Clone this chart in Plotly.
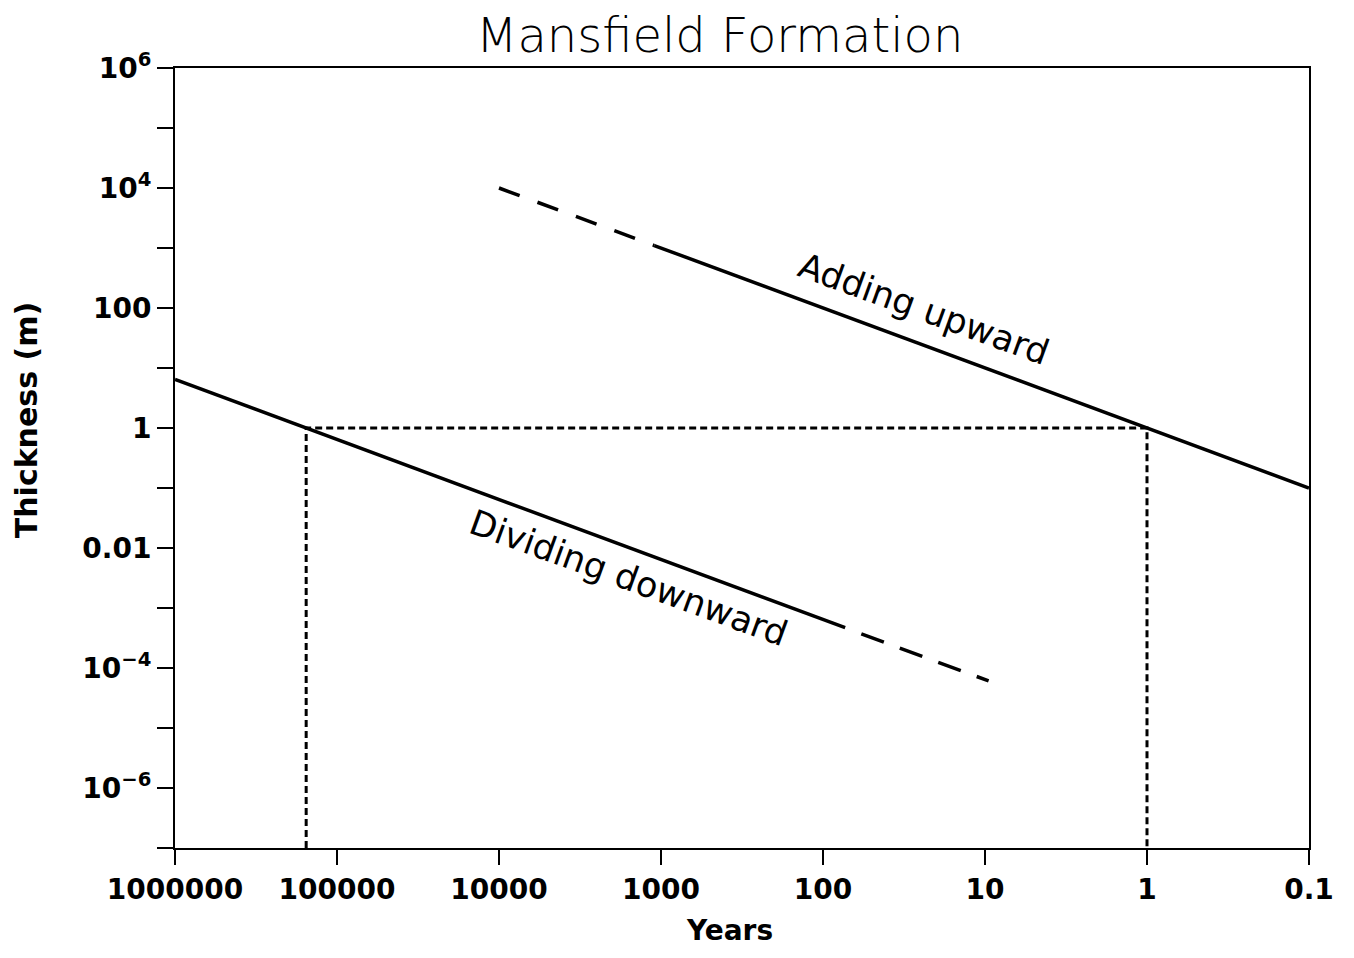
import plotly.graph_objects as go

# values
up_dash_years = [10000, 1100]
up_dash_m = [10000, 1100]
up_solid_years = [1100, 0.1]
up_solid_m = [1100, 0.1]

down_solid_years = [1000000, 73]
down_solid_m = [6.45, 0.00047]
down_dash_years = [58, 9.5]
down_dash_m = [0.00037, 0.000061]

box_years = [155000, 155000, 1, 1]
box_m = [1e-7, 1, 1, 1e-7]

x_tickvals = [1e6, 1e5, 1e4, 1e3, 1e2, 10, 1, 0.1]
x_ticktext = ["1000000", "100000", "10000", "1000", "100", "10", "1", "0.1"]
y_tickvals = [1e-6, 1e-4, 1e-2, 1, 100, 1e4, 1e6]
y_ticktext = ["10<sup>−6</sup>", "10<sup>−4</sup>", "0.01", "1", "100",
              "10<sup>4</sup>", "10<sup>6</sup>"]
y_minorvals = [1e-7, 1e-5, 1e-3, 0.1, 10, 1e3, 1e5]

FONT = "DejaVu Sans"

fig = go.Figure()
fig.add_trace(go.Scatter(x=box_years, y=box_m, mode="lines",
                         line=dict(color="black", width=3, dash="7px,4px")))
fig.add_trace(go.Scatter(x=up_dash_years, y=up_dash_m, mode="lines",
                         line=dict(color="black", width=3.5, dash="22px,19px")))
fig.add_trace(go.Scatter(x=up_solid_years, y=up_solid_m, mode="lines",
                         line=dict(color="black", width=3.5)))
fig.add_trace(go.Scatter(x=down_solid_years, y=down_solid_m, mode="lines",
                         line=dict(color="black", width=3.5)))
fig.add_trace(go.Scatter(x=down_dash_years, y=down_dash_m, mode="lines",
                         line=dict(color="black", width=3.5, dash="24px,17px")))

fig.update_xaxes(type="log", range=[6, -1], tickvals=x_tickvals, ticktext=x_ticktext,
                 ticks="outside", ticklen=15, tickwidth=2, tickcolor="black",
                 showline=True, linecolor="black", linewidth=2, mirror=True,
                 showgrid=False, zeroline=False,
                 tickfont=dict(family=FONT, size=28, color="black", weight="bold"))
fig.update_yaxes(type="log", range=[-7, 6], tickvals=y_tickvals, ticktext=y_ticktext,
                 ticks="outside", ticklen=16, tickwidth=2, tickcolor="black",
                 minor=dict(tickvals=y_minorvals, ticks="outside", ticklen=16,
                            tickwidth=2, tickcolor="black", showgrid=False),
                 showline=True, linecolor="black", linewidth=2, mirror=True,
                 showgrid=False, zeroline=False,
                 tickfont=dict(family=FONT, size=28, color="black", weight="bold"))

notes = [
    dict(text="Adding upward", x=1.378, y=1.98, xref="x", yref="y", textangle=20,
         font=dict(family=FONT, size=35, color="black")),
    dict(text="Dividing downward", x=3.2, y=-2.5, xref="x", yref="y", textangle=20,
         font=dict(family=FONT, size=35, color="black")),
    dict(text="Mansfield Formation", x=0.48, y=1.042, xref="paper", yref="paper",
         font=dict(family=FONT, size=48, color="black", weight=300)),
    dict(text="Years", x=0.489, y=-0.106, xref="paper", yref="paper",
         font=dict(family=FONT, size=28, color="black", weight="bold")),
    dict(text="Thickness (m)", x=-0.131, y=0.549, xref="paper", yref="paper", textangle=-90,
         font=dict(family=FONT, size=30, color="black", weight="bold")),
]
for n in notes:
    fig.add_annotation(showarrow=False, xanchor="center", yanchor="middle", **n)

# page body adds an 8px margin, so the figure is a bit smaller than the window
fig.update_layout(width=1338, height=942, showlegend=False,
                  plot_bgcolor="white", paper_bgcolor="white",
                  margin=dict(l=167, r=33, t=60, b=102))

fig.write_html("out.html")
